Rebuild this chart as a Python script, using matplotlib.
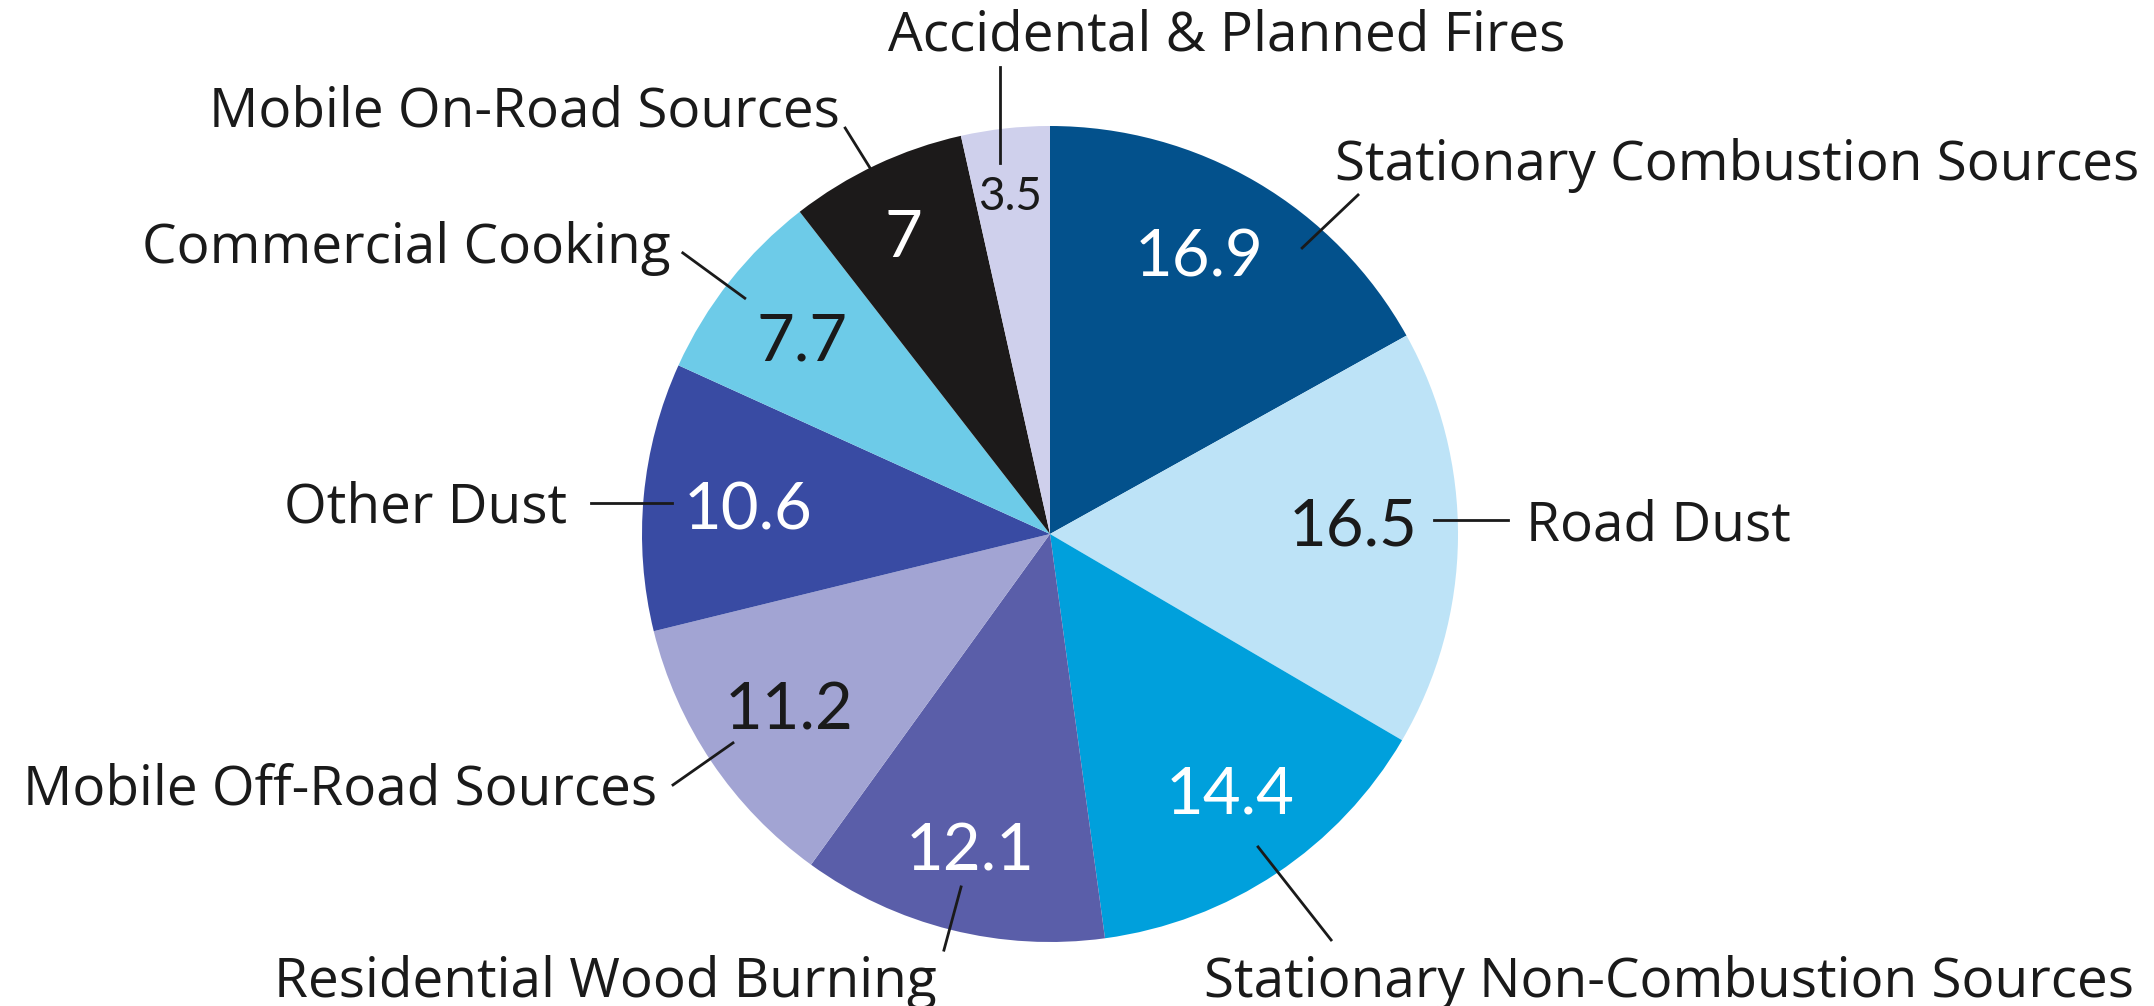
import matplotlib
matplotlib.use('Agg')
import matplotlib.pyplot as plt

plt.rcParams['font.family'] = ['Lato', 'DejaVu Sans']

# emission share by source category (clockwise from 12 o'clock)
categories = ['Stationary Combustion Sources', 'Road Dust', 'Stationary Non-Combustion Sources',
              'Residential Wood Burning', 'Mobile Off-Road Sources', 'Other Dust',
              'Commercial Cooking', 'Mobile On-Road Sources', 'Accidental & Planned Fires']
values = [16.9, 16.5, 14.4, 12.1, 11.2, 10.6, 7.7, 7, 3.5]
value_labels = ['16.9', '16.5', '14.4', '12.1', '11.2', '10.6', '7.7', '7', '3.5']

colors = ['#03518c', '#bde3f7', '#00a0dc', '#5a5ea9', '#a2a4d3',
          '#394ba3', '#6dcbe8', '#1c1a1a', '#cfd0ec']
num_colors = ['white', '#1a1a1a', 'white', 'white', '#1a1a1a',
              'white', '#1a1a1a', 'white', '#1a1a1a']
num_sizes = [47, 47, 47, 47, 47, 47, 47, 47, 33]

# layout (pie radius = 1, centred at 0,0)
num_pos = [(0.365, 0.630), (0.743, -0.027), (0.441, -0.684), (-0.196, -0.824), (-0.640, -0.480),
           (-0.740, 0.010), (-0.608, 0.426), (-0.360, 0.679), (-0.098, 0.794)]
name_pos = [(0.699, 0.868, 'left'), (1.167, -0.015, 'left'), (0.377, -1.135, 'left'),
            (-0.277, -1.135, 'right'), (-0.963, -0.664, 'right'), (-1.184, 0.029, 'right'),
            (-0.931, 0.664, 'right'), (-0.516, 0.998, 'right'), (0.434, 1.186, 'center')]
leaders = [((0.755, 0.831), (0.618, 0.701)), ((0.941, 0.034), (1.123, 0.034)),
           ((0.510, -0.767), (0.689, -0.995)), ((-0.218, -0.865), (-0.260, -1.020)),
           ((-0.777, -0.512), (-0.924, -0.615)), ((-0.926, 0.076), (-1.125, 0.076)),
           ((-0.748, 0.578), (-0.900, 0.689)), ((-0.441, 0.897), (-0.502, 0.995)),
           ((-0.123, 0.909), (-0.123, 1.145))]

fig = plt.figure(figsize=(21.54, 10.06), dpi=100)
ax = fig.add_axes([0, 0, 1, 1])
ax.pie(values, colors=colors, startangle=90, counterclock=False, radius=1,
       wedgeprops=dict(linewidth=0, antialiased=True))
ax.set_aspect('auto')
ax.set_xlim(-1050 / 408, (2154 - 1050) / 408)
ax.set_ylim(-(1006 - 534) / 408, 534 / 408)
ax.axis('off')

for lab, (x, y), c, s in zip(value_labels, num_pos, num_colors, num_sizes):
    ax.text(x, y, lab, color=c, fontsize=s, ha='center', va='baseline')

for name, (x, y, ha) in zip(categories, name_pos):
    ax.text(x, y, name, color='#1a1a1a', fontsize=39.5, ha=ha, va='baseline',
            family=['Open Sans', 'DejaVu Sans'])

for (p0, p1) in leaders:
    ax.plot([p0[0], p1[0]], [p0[1], p1[1]], color='#1a1a1a', linewidth=2)

fig.savefig('out.png', dpi=100, facecolor='white')
